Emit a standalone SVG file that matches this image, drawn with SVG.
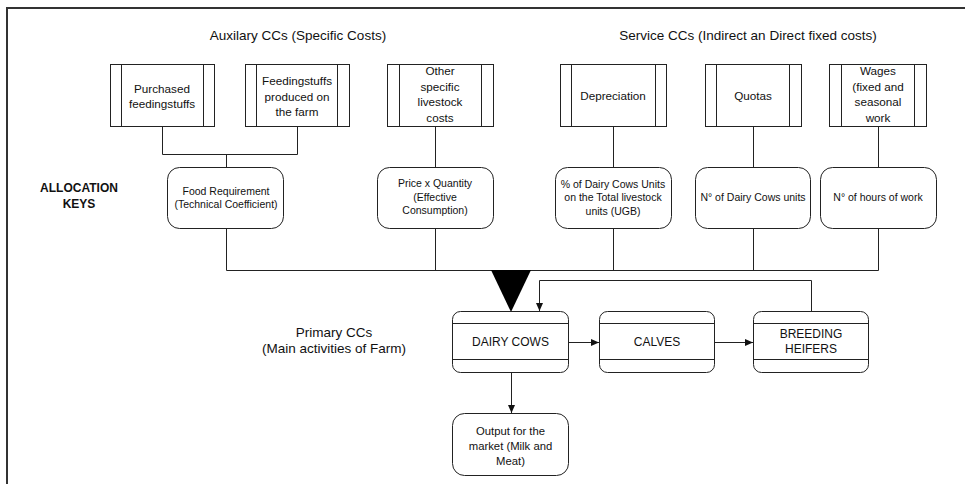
<svg xmlns="http://www.w3.org/2000/svg" width="965" height="484" viewBox="0 0 965 484">
  <style>
    text { font-family: "Liberation Sans", Arial, sans-serif; fill: #111; text-anchor: middle; }
    .title { font-size: 13.5px; }
    .box { font-size: 11.7px; }
    .out { font-size: 11.3px; }
    .key { font-size: 10.5px; }
    .prim { font-size: 12px; }
    .bold { font-size: 12px; font-weight: bold; }
    .frame { fill: none; stroke: #333; stroke-width: 2; }
    .shape { fill: #fff; stroke: #222; stroke-width: 1; }
    .line { fill: none; stroke: #222; stroke-width: 1; }
  </style>
  <defs>
    <marker id="arrow" viewBox="0 0 8 8" refX="8" refY="4" markerWidth="8" markerHeight="8" markerUnits="userSpaceOnUse" orient="auto">
      <path d="M0,0.5 L8,4 L0,7.5 Z" fill="#111"/>
    </marker>
  </defs>

  <!-- outer frame (open at right and bottom) -->
  <path class="frame" d="M7,484 V8 H965"/>

  <!-- section labels -->
  <text class="title" x="298" y="40">Auxilary CCs (Specific Costs)</text>
  <text class="title" x="748" y="40">Service CCs (Indirect an Direct fixed costs)</text>
  <text class="bold" x="79" y="192">ALLOCATION</text>
  <text class="bold" x="79" y="208">KEYS</text>
  <text class="title" x="334" y="337">Primary CCs</text>
  <text class="title" x="334" y="353">(Main activities of Farm)</text>

  <!-- connectors -->
  <g id="connectors">
    <path class="line" d="M162.5,127 V154.5 H297.5 V127"/>
    <path class="line" d="M226.5,154.5 V167"/>
    <path class="line" d="M435.5,127 V167"/>
    <path class="line" d="M613.5,127 V167"/>
    <path class="line" d="M753.5,127 V167"/>
    <path class="line" d="M878.5,127 V167"/>
    <path class="line" d="M226.5,228 V270.5 H878.5 V228"/>
    <path class="line" d="M435.5,228 V270.5"/>
    <path class="line" d="M613.5,228 V270.5"/>
    <path class="line" d="M753.5,228 V270.5"/>
    <polygon points="491,270 531,270 511,312" fill="#000"/>
    <path class="line" d="M568,342.5 H599" marker-end="url(#arrow)"/>
    <path class="line" d="M714,342.5 H753" marker-end="url(#arrow)"/>
    <path class="line" d="M811.5,311 V280.5 H539.5 V311" marker-end="url(#arrow)"/>
    <path class="line" d="M511.5,373 V413" marker-end="url(#arrow)"/>
  </g>

  <!-- auxiliary cost centres -->
  <g id="purchased">
    <rect class="shape" x="110.5" y="64.5" width="104" height="62"/>
    <path class="line" d="M121.5,64.5 V126.5 M203.5,64.5 V126.5"/>
    <text class="box" x="162" y="92.5">Purchased</text>
    <text class="box" x="162" y="107.5">feedingstuffs</text>
  </g>
  <g id="farm-feed">
    <rect class="shape" x="245.5" y="64.5" width="104" height="62"/>
    <path class="line" d="M256.5,64.5 V126.5 M337.5,64.5 V126.5"/>
    <text class="box" x="297" y="85">Feedingstuffs</text>
    <text class="box" x="297" y="100.5">produced on</text>
    <text class="box" x="297" y="116">the farm</text>
  </g>
  <g id="other-costs">
    <rect class="shape" x="387.5" y="64.5" width="106" height="62"/>
    <path class="line" d="M399.5,64.5 V126.5 M481.5,64.5 V126.5"/>
    <text class="box" x="440" y="75">Other</text>
    <text class="box" x="440" y="90.5">specific</text>
    <text class="box" x="440" y="106">livestock</text>
    <text class="box" x="440" y="121.5">costs</text>
  </g>

  <!-- service cost centres -->
  <g id="depreciation">
    <rect class="shape" x="560.5" y="64.5" width="106" height="62"/>
    <path class="line" d="M571.5,64.5 V126.5 M655.5,64.5 V126.5"/>
    <text class="box" x="613" y="100">Depreciation</text>
  </g>
  <g id="quotas">
    <rect class="shape" x="705.5" y="64.5" width="96" height="62"/>
    <path class="line" d="M716.5,64.5 V126.5 M789.5,64.5 V126.5"/>
    <text class="box" x="753" y="100">Quotas</text>
  </g>
  <g id="wages">
    <rect class="shape" x="829.5" y="64.5" width="97" height="62"/>
    <path class="line" d="M841.5,64.5 V126.5 M914.5,64.5 V126.5"/>
    <text class="box" x="878" y="75">Wages</text>
    <text class="box" x="878" y="90.5">(fixed and</text>
    <text class="box" x="878" y="106">seasonal</text>
    <text class="box" x="878" y="121.5">work</text>
  </g>

  <!-- allocation keys -->
  <g id="key-food">
    <rect class="shape" x="167.5" y="167.5" width="116" height="61" rx="12"/>
    <text class="key" x="226" y="195">Food Requirement</text>
    <text class="key" x="226" y="207.5">(Technical Coefficient)</text>
  </g>
  <g id="key-price">
    <rect class="shape" x="377.5" y="167.5" width="116" height="61" rx="12"/>
    <text class="key" x="435" y="187">Price x Quantity</text>
    <text class="key" x="435" y="200.5">(Effective</text>
    <text class="key" x="435" y="214">Consumption)</text>
  </g>
  <g id="key-units">
    <rect class="shape" x="555.5" y="167.5" width="116" height="61" rx="12"/>
    <text class="key" x="613" y="187.5">% of Dairy Cows Units</text>
    <text class="key" x="613" y="201">on the Total livestock</text>
    <text class="key" x="613" y="214.5">units (UGB)</text>
  </g>
  <g id="key-cows">
    <rect class="shape" x="695.5" y="167.5" width="115" height="61" rx="12"/>
    <text class="key" x="753" y="201">N° of Dairy Cows units</text>
  </g>
  <g id="key-hours">
    <rect class="shape" x="820.5" y="167.5" width="116" height="61" rx="12"/>
    <text class="key" x="878" y="201">N° of hours of work</text>
  </g>

  <!-- primary cost centres -->
  <g id="dairy-cows">
    <rect class="shape" x="452.5" y="311.5" width="116" height="61" rx="8"/>
    <path class="line" d="M452.5,323.5 H568.5 M452.5,359.5 H568.5"/>
    <text class="prim" x="510.5" y="345.5">DAIRY COWS</text>
  </g>
  <g id="calves">
    <rect class="shape" x="599.5" y="311.5" width="115" height="61" rx="8"/>
    <path class="line" d="M599.5,323.5 H714.5 M599.5,359.5 H714.5"/>
    <text class="prim" x="657" y="345.5">CALVES</text>
  </g>
  <g id="heifers">
    <rect class="shape" x="753.5" y="311.5" width="115" height="61" rx="8"/>
    <path class="line" d="M753.5,323.5 H868.5 M753.5,359.5 H868.5"/>
    <text class="prim" x="811" y="337.5">BREEDING</text>
    <text class="prim" x="811" y="353">HEIFERS</text>
  </g>
  <g id="output">
    <rect class="shape" x="452.5" y="413.5" width="116" height="62" rx="12"/>
    <text class="out" x="510.5" y="435">Output for the</text>
    <text class="out" x="510.5" y="450">market (Milk and</text>
    <text class="out" x="510.5" y="465">Meat)</text>
  </g>
</svg>
